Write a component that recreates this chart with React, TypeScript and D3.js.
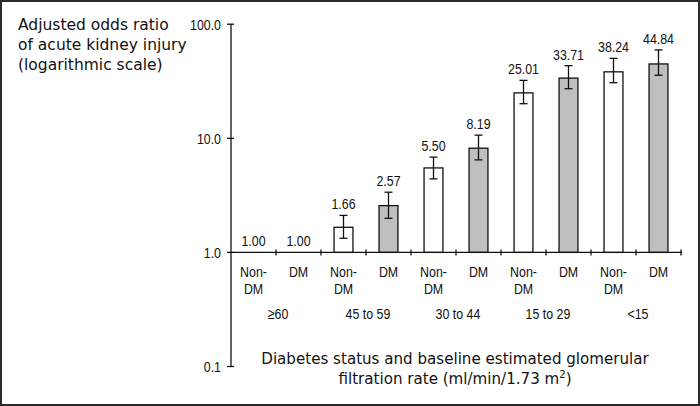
import React from "react";
import * as d3 from "d3";

const categories = ["Non-DM", "DM", "Non-DM", "DM", "Non-DM", "DM", "Non-DM", "DM", "Non-DM", "DM"];
const isDiabetes = [false, true, false, true, false, true, false, true, false, true];
const groups = ["≥60", "45 to 59", "30 to 44", "15 to 29", "<15"];
const oddsRatios = [1.0, 1.0, 1.66, 2.57, 5.5, 8.19, 25.01, 33.71, 38.24, 44.84];
const ciLower: (number | null)[] = [null, null, 1.33, 1.99, 4.41, 6.47, 20.1, 27.2, 30.7, 35.7];
const ciUpper: (number | null)[] = [null, null, 2.11, 3.37, 6.84, 10.66, 32.2, 43.3, 50.2, 59.5];
const yTicks = [0.1, 1, 10, 100];
const yTitle = ["Adjusted odds ratio", "of acute kidney injury", "(logarithmic scale)"];

const W = 700;
const H = 406;
const ARIAL = "'Liberation Sans', Arial, sans-serif";
const WIDE = "'DejaVu Sans', sans-serif";
const SQUEEZE = 0.8;

function NarrowText({
  x,
  y,
  anchor = "middle",
  dy,
  children,
}: {
  x: number;
  y: number;
  anchor?: "start" | "middle" | "end";
  dy?: string;
  children: React.ReactNode;
}) {
  return (
    <text
      transform={`translate(${x},${y}) scale(${SQUEEZE},1)`}
      dy={dy}
      textAnchor={anchor}
      fontFamily={ARIAL}
      fontSize={15.5}
      fill="#111"
    >
      {children}
    </text>
  );
}

export default function App() {
  const x = d3
    .scaleBand<number>()
    .domain(d3.range(categories.length))
    .range([231, 681])
    .paddingInner(0.58)
    .paddingOuter(0.29);
  const y = d3.scaleLog().domain([0.1, 100]).range([366.5, 24.2]);
  const step = x.step();
  const x0 = 231;
  const axisY = y(1);
  const fmtTick = d3.format(".1f");
  const fmtVal = d3.format(".2f");

  return (
    <svg
      width={W}
      height={H}
      style={{ position: "absolute", left: 0, top: 0, background: "#fff" }}
    >
      <rect x={1} y={1} width={W - 2} height={H - 2} fill="#fff" stroke="#2a2a2a" strokeWidth={2} />

      {/* y title */}
      <text fontFamily={WIDE} fontSize={15.5} fill="#111">
        {yTitle.map((t, i) => (
          <tspan key={i} x={18} y={30 + i * 20}>
            {t}
          </tspan>
        ))}
      </text>

      {/* y axis */}
      <line x1={x0} x2={x0} y1={y(0.1)} y2={y(100)} stroke="#111" strokeWidth={1.3} />
      {yTicks.map((t) => (
        <g key={t}>
          <line x1={x0 - 4} x2={x0 + 3} y1={y(t)} y2={y(t)} stroke="#111" strokeWidth={1.3} />
          <NarrowText x={x0 - 10} y={y(t)} anchor="end" dy="0.36em">
            {fmtTick(t)}
          </NarrowText>
        </g>
      ))}

      {/* bars */}
      {oddsRatios.map((v, i) => {
        const bx = x(i)!;
        const bw = x.bandwidth();
        if (v <= 1) return null;
        return (
          <rect
            key={i}
            x={bx}
            y={y(v)}
            width={bw}
            height={axisY - y(v)}
            fill={isDiabetes[i] ? "#bfbfbf" : "#ffffff"}
            stroke="#111"
            strokeWidth={1.3}
          />
        );
      })}

      {/* error bars */}
      {oddsRatios.map((v, i) => {
        const lo = ciLower[i];
        const hi = ciUpper[i];
        if (lo == null || hi == null) return null;
        const cx = x(i)! + x.bandwidth() / 2;
        return (
          <g key={i} stroke="#111" strokeWidth={1.3}>
            <line x1={cx} x2={cx} y1={y(lo)} y2={y(hi)} />
            <line x1={cx - 4} x2={cx + 4} y1={y(lo)} y2={y(lo)} />
            <line x1={cx - 4} x2={cx + 4} y1={y(hi)} y2={y(hi)} />
          </g>
        );
      })}

      {/* value labels */}
      {oddsRatios.map((v, i) => {
        const hi = ciUpper[i];
        const top = hi != null ? y(hi) : y(v);
        const cx = x(i)! + x.bandwidth() / 2;
        return (
          <NarrowText key={i} x={cx} y={top - 6}>
            {fmtVal(v)}
          </NarrowText>
        );
      })}

      {/* x axis */}
      <line x1={x0} x2={x0 + step * categories.length + 1} y1={axisY} y2={axisY} stroke="#111" strokeWidth={1.3} />
      {d3.range(1, categories.length + 1).map((k) => (
        <line
          key={k}
          x1={x0 + step * k}
          x2={x0 + step * k}
          y1={axisY - 3}
          y2={axisY + 3}
          stroke="#111"
          strokeWidth={1.3}
        />
      ))}

      {/* category labels */}
      {categories.map((c, i) => {
        const cx = x(i)! + x.bandwidth() / 2;
        const parts = c === "Non-DM" ? ["Non-", "DM"] : [c];
        return (
          <g key={i}>
            {parts.map((p, j) => (
              <NarrowText key={j} x={cx} y={277 + j * 16.6}>
                {p}
              </NarrowText>
            ))}
          </g>
        );
      })}

      {/* group labels */}
      {groups.map((g, gi) => {
        const cx = x0 + step * (gi * 2 + 1) + 2;
        return (
          <NarrowText key={g} x={cx} y={319}>
            {g}
          </NarrowText>
        );
      })}

      {/* x title */}
      <text textAnchor="middle" fontFamily={WIDE} fontSize={15.1} fill="#111">
        <tspan x={455} y={363.5}>
          Diabetes status and baseline estimated glomerular
        </tspan>
        <tspan x={455} y={383.5}>
          filtration rate (ml/min/1.73 m
          <tspan fontSize={10} dy={-6}>
            2
          </tspan>
          <tspan dy={6}>)</tspan>
        </tspan>
      </text>
    </svg>
  );
}
